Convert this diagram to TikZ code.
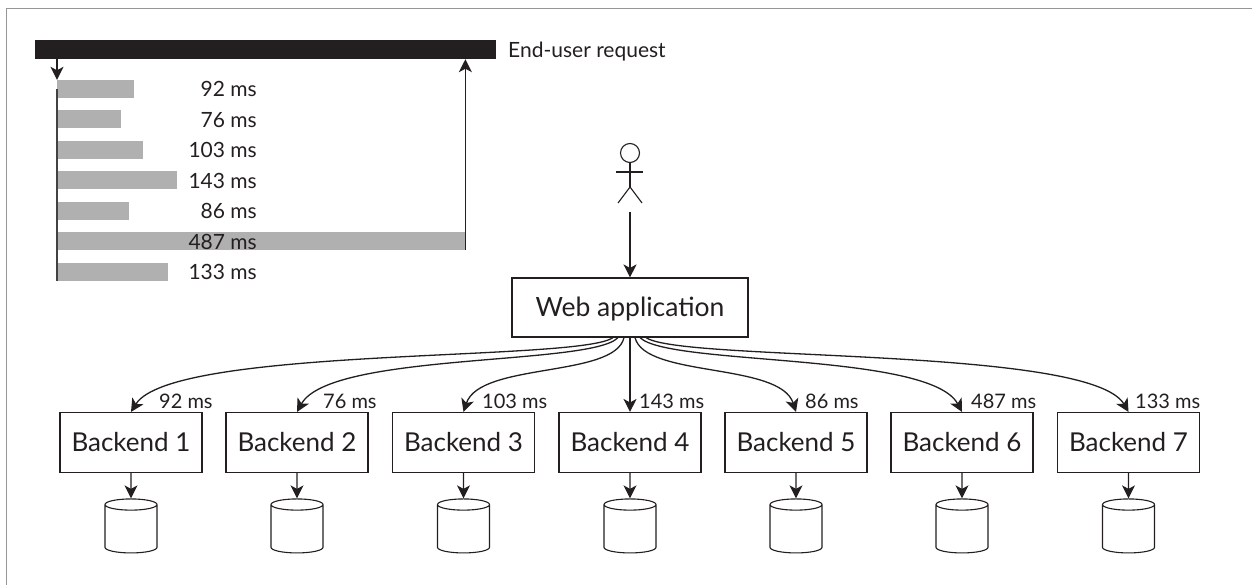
\documentclass[tikz,border=0pt]{standalone}
\usepackage{fontspec}
\setmainfont{Lato}
\usetikzlibrary{shapes.geometric, arrows.meta, positioning}
\definecolor{inkdark}{RGB}{35, 31, 32}
\definecolor{bargray}{RGB}{176, 176, 176}
\definecolor{framegray}{RGB}{150, 150, 150}

\begin{document}
\begin{tikzpicture}[x=1pt, y=-1pt, inkdark,
    box/.style={rectangle, draw, line width=1.1pt, inner sep=0pt, text=inkdark},
    backend/.style={box, minimum width=142pt, minimum height=60pt, font=\fontsize{26}{28}\selectfont},
    db/.style={cylinder, shape border rotate=90, draw, line width=1.1pt, shape aspect=1.4, minimum width=52pt, minimum height=54pt, inner sep=4pt},
    bar/.style={rectangle, fill=bargray, anchor=west, minimum height=18pt, inner sep=0pt},
    barlabel/.style={anchor=east, inner sep=0pt, font=\fontsize{21}{23}\selectfont},
    latency/.style={anchor=west, inner sep=0pt, font=\fontsize{20}{22}\selectfont},
    flow/.style={-{Stealth[length=13pt, width=13pt, inset=3.5pt]}, line width=1.3pt}
]
% Page size and edge lines
\useasboundingbox (0,0) rectangle (1252,585);
\draw[framegray, line width=1.5pt] (6.7,585) -- (6.7,8.3) -- (1252,8.3);

% End-user request bar
\node[rectangle, fill=inkdark, minimum width=461pt, minimum height=19pt, inner sep=0pt, anchor=west] (request) at (35,49.5) {};
\node[anchor=west, inner sep=0pt, font=\fontsize{21}{23}\selectfont] (requestlabel) at (508,52) {End-user request};

% Latency bars
\node[bar, minimum width=77pt] (bar1) at (57,89) {};
\node[bar, minimum width=64pt] (bar2) at (57,119) {};
\node[bar, minimum width=86pt] (bar3) at (57,150) {};
\node[bar, minimum width=120pt] (bar4) at (57,180) {};
\node[bar, minimum width=72pt] (bar5) at (57,211) {};
\node[bar, minimum width=408pt] (bar6) at (57,241) {};
\node[bar, minimum width=111pt] (bar7) at (57,272) {};

% Bar values
\node[barlabel] (val1) at (257,89) {92 ms};
\node[barlabel] (val2) at (257,120) {76 ms};
\node[barlabel] (val3) at (257,150) {103 ms};
\node[barlabel] (val4) at (257,181) {143 ms};
\node[barlabel] (val5) at (257,211) {86 ms};
\node[barlabel] (val6) at (257,242) {487 ms};
\node[barlabel] (val7) at (257,272) {133 ms};

% Request lines
\draw[inkdark!85, line width=1.1pt] (bar1.west) -- (bar7.south west);
\draw[flow] (request.south -| bar1.west) -- (bar1.north west);
\draw[flow] (bar6.south east) -- (bar6.east |- request.south);

% Person
\node[circle, draw, line width=1.1pt, minimum size=19pt, inner sep=0pt] (head) at (630,153) {};
\coordinate (hip) at (630,187);
\coordinate (foot) at (630,212);
\draw[line width=1.1pt] (head.south) -- (hip);
\draw[line width=1.1pt] (616,172) -- (643,172);
\draw[line width=1.1pt] (618,203) -- (hip) -- (642,203);

% Web application
\node[box, minimum width=236pt, minimum height=59pt, text depth=1pt, font=\fontsize{26.5}{29}\selectfont] (web) at (630,307.5) {Web application};
\draw[flow] (foot) -- (web.north);

% Backends
\node[backend] (back1) at (131,442.5) {Backend 1};
\node[backend] (back2) at (297,442.5) {Backend 2};
\node[backend] (back3) at (463.5,442.5) {Backend 3};
\node[backend] (back4) at (630,442.5) {Backend 4};
\node[backend] (back5) at (796,442.5) {Backend 5};
\node[backend] (back6) at (962,442.5) {Backend 6};
\node[backend] (back7) at (1128.5,442.5) {Backend 7};

% Databases
\node[db] (db1) at (131,530.5) {};
\node[db] (db2) at (297,530.5) {};
\node[db] (db3) at (463.5,530.5) {};
\node[db] (db4) at (630,530.5) {};
\node[db] (db5) at (796,530.5) {};
\node[db] (db6) at (962,530.5) {};
\node[db] (db7) at (1128.5,530.5) {};

% Arrows to databases
\draw[flow] (back1.south) -- (db1.north);
\draw[flow] (back2.south) -- (db2.north);
\draw[flow] (back3.south) -- (db3.north);
\draw[flow] (back4.south) -- (db4.north);
\draw[flow] (back5.south) -- (db5.north);
\draw[flow] (back6.south) -- (db6.north);
\draw[flow] (back7.south) -- (db7.north);

% Arrows to backends
\draw[flow] ([xshift=-17pt]web.south) .. controls (580,362) and (172,346) .. (back1.north);
\draw[flow] ([xshift=-12pt]web.south) .. controls (592,366) and (330,352) .. (back2.north);
\draw[flow] ([xshift=-6pt]web.south) .. controls (615,378) and (480,362) .. (back3.north);
\draw[flow] (web.south) -- (back4.north);
\draw[flow] ([xshift=5pt]web.south) .. controls (645,378) and (780,362) .. (back5.north);
\draw[flow] ([xshift=10pt]web.south) .. controls (668,366) and (930,352) .. (back6.north);
\draw[flow] ([xshift=16pt]web.south) .. controls (680,362) and (1090,346) .. (back7.north);

% Backend latencies
\node[latency] (lat1) at (159,401) {92 ms};
\node[latency] (lat2) at (323,401) {76 ms};
\node[latency] (lat3) at (482,401) {103 ms};
\node[latency] (lat4) at (639,401) {143 ms};
\node[latency] (lat5) at (805,401) {86 ms};
\node[latency] (lat6) at (971,401) {487 ms};
\node[latency] (lat7) at (1135,401) {133 ms};
\end{tikzpicture}
\end{document}
